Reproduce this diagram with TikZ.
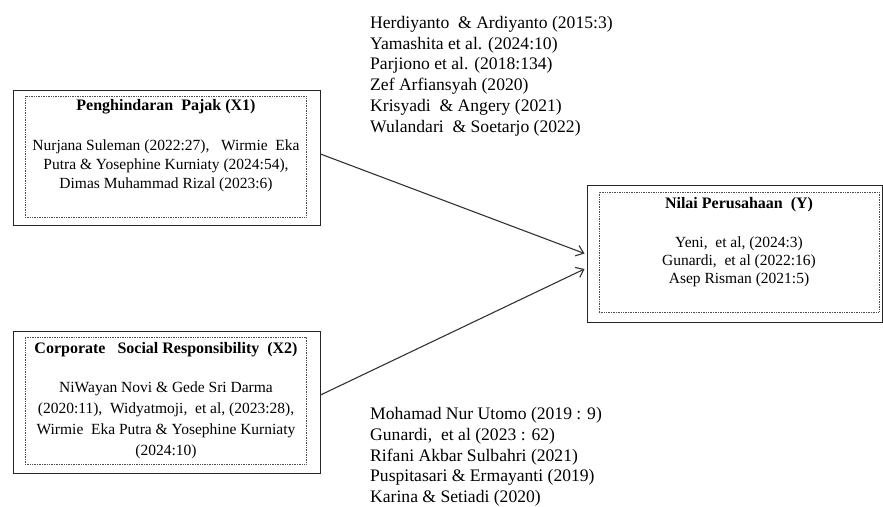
\documentclass[tikz,border=0pt]{standalone}
\usepackage{fontspec}
\setmainfont{Liberation Serif}
\usetikzlibrary{arrows.meta}
\begin{document}
\begin{tikzpicture}[x=1pt,y=-1pt,
  outerbox/.style={draw=black!85,line width=1pt,inner sep=0pt,fill=white},
  innerbox/.style={draw=black!70,densely dotted,line width=0.7pt,inner sep=0pt},
  ttl/.style={font=\fontsize{16}{19}\selectfont\bfseries,anchor=mid,inner sep=0pt},
  bdy/.style={font=\fontsize{15.5}{19}\selectfont,anchor=mid,inner sep=0pt},
  lst/.style={font=\fontsize{17.6}{21}\selectfont,anchor=mid west,inner sep=0pt},
  link/.style={draw=black!80,line width=1.1pt,-{Straight Barb[length=7pt,width=11pt,line width=1.1pt]}}]
\useasboundingbox (0,0) rectangle (883,506);

% boxes
\node[outerbox,minimum width=307pt,minimum height=135pt] (x1) at (166.5,157.5) {};
\node[innerbox,minimum width=281pt,minimum height=121pt] (x1in) at (165.5,156.5) {};
\node[outerbox,minimum width=307pt,minimum height=142pt] (x2) at (166.5,402) {};
\node[innerbox,minimum width=281pt,minimum height=127pt] (x2in) at (165.5,400.5) {};
\node[outerbox,minimum width=295pt,minimum height=137pt] (y) at (734.5,253.5) {};
\node[innerbox,minimum width=280pt,minimum height=120pt] (yin) at (739,252) {};

% X1 text
\node[ttl] (x1t) at (166,108) {Penghindaran\ \ Pajak (X1)};
\node[bdy] (x1a) at (166,148) {Nurjana Suleman (2022:27),\ \ \ Wirmie\ \ Eka};
\node[bdy] (x1b) at (166,167) {Putra \& Yosephine Kurniaty (2024:54),};
\node[bdy] (x1c) at (166,186) {Dimas\ Muhammad\ Rizal (2023:6)};

% X2 text
\node[ttl] (x2t) at (166,351) {Corporate\ \ \ Social Responsibility\ \ (X2)};
\node[bdy] (x2a) at (166,390) {NiWayan Novi \& Gede Sri Darma};
\node[bdy] (x2b) at (166,411) {(2020:11),\ \ Widyatmoji,\ \ et al, (2023:28),};
\node[bdy] (x2c) at (166,432) {Wirmie\ \ Eka Putra \& Yosephine Kurniaty};
\node[bdy] (x2d) at (166,453) {(2024:10)};

% Y text
\node[ttl] (yt) at (739,206) {Nilai Perusahaan\ \ (Y)};
\node[bdy] (ya) at (739,245) {Yeni,\ \ et al, (2024:3)};
\node[bdy] (yb) at (739,263) {Gunardi,\ \ et al (2022:16)};
\node[bdy] (yc) at (739,281) {Asep Risman (2021:5)};

% top list
\node[lst] (t1) at (370,26) {Herdiyanto\ \ \& Ardiyanto\ (2015:3)};
\node[lst] (t2) at (370,46.8) {Yamashita et al. (2024:10)};
\node[lst] (t3) at (370,67.6) {Parjiono\ et al. (2018:134)};
\node[lst] (t4) at (370,88.4) {Zef Arfiansyah (2020)};
\node[lst] (t5) at (370,109.2) {Krisyadi\ \ \& Angery (2021)};
\node[lst] (t6) at (370,130) {Wulandari\ \ \& Soetarjo (2022)};

% bottom list
\node[lst] (b1) at (370,417.5) {Mohamad Nur Utomo (2019 : 9)};
\node[lst] (b2) at (370,438.1) {Gunardi,\ \ et al (2023 : 62)};
\node[lst] (b3) at (370,458.7) {Rifani Akbar Sulbahri (2021)};
\node[lst] (b4) at (370,479.3) {Puspitasari \& Ermayanti (2019)};
\node[lst] (b5) at (370,499.9) {Karina \& Setiadi (2020)};

% connectors
\draw[link] ([yshift=3.5pt]x1.east) -- ([xshift=-2pt]y.west);
\draw[link] ([yshift=7pt]x2.east) -- ([xshift=-2pt,yshift=-15.5pt]y.west);
\end{tikzpicture}
\end{document}
